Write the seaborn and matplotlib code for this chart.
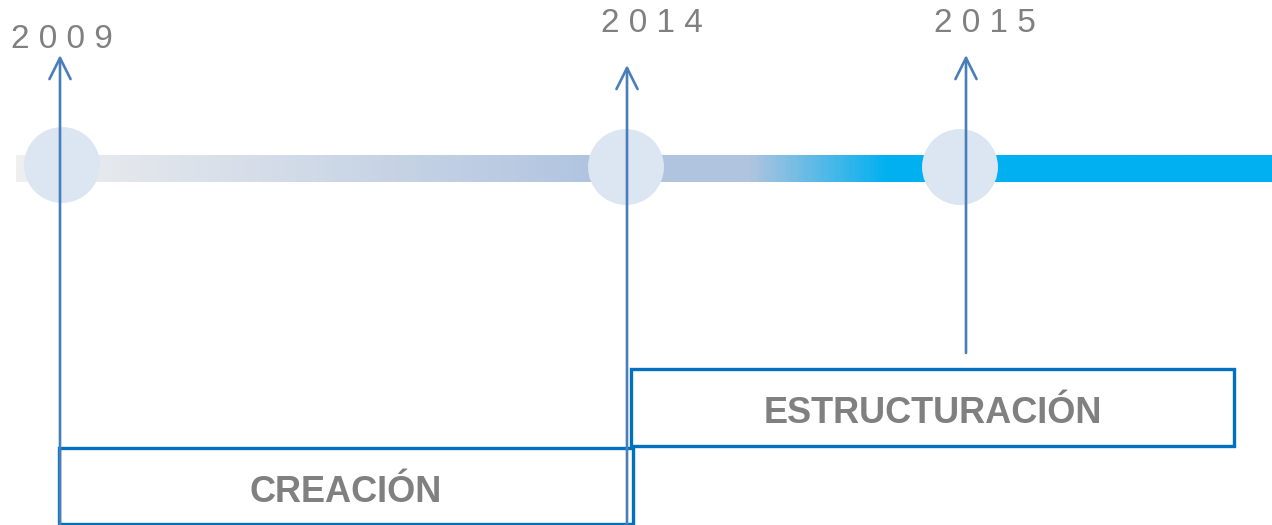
import numpy as np
import pandas as pd
import matplotlib.pyplot as plt
from matplotlib.colors import LinearSegmentedColormap
from matplotlib.patches import Rectangle
import seaborn as sns

# Timeline data
years = ['2009', '2014', '2015']
year_x = [62, 626, 960]          # circle centres along the bar
arrow_x = [60, 627, 966]
arrow_bottom = [525, 525, 353]
arrow_top = [55, 65, 55]
label_x = [62, 652, 985]
label_y = [39, 23, 23]
phases = ['CREACIÓN', 'ESTRUCTURACIÓN']
phase_boxes = [(59, 448, 574, 76), (631, 369, 603, 77)]  # x, y, w, h

sns.set_theme(style="white")
plt.rcParams['font.family'] = ['Liberation Sans', 'DejaVu Sans']

fig = plt.figure(figsize=(12.72, 5.25), dpi=100)
ax = fig.add_axes([0, 0, 1, 1])

# Gradient bar
cmap = LinearSegmentedColormap.from_list('bar', [
    (0.0, '#efefef'), (0.45, '#b2c5e0'), (0.585, '#b0c4df'),
    (0.695, '#00b0f0'), (1.0, '#00b0f0')])
grad = np.linspace(0, 1, 600).reshape(1, -1)
ax.imshow(grad, cmap=cmap, aspect='auto', extent=(16, 1272, 182, 155), zorder=1)

# Circles
circles = pd.DataFrame({'x': year_x, 'y': [165, 167, 167], 'year': years})
sns.scatterplot(data=circles, x='x', y='y', s=2990, color='#dce6f2',
                edgecolor='none', ax=ax, zorder=2, legend=False)
ax.set_xlim(0, 1272)
ax.set_ylim(525, 0)
ax.axis('off')

# Arrows and year labels
for yr, x, yb, yt, lx, ly in zip(years, arrow_x, arrow_bottom, arrow_top, label_x, label_y):
    ax.annotate('', xy=(x, yt), xytext=(x, yb),
                arrowprops=dict(arrowstyle='->', color='#4a7ebb', lw=1.9,
                                mutation_scale=38, shrinkA=0, shrinkB=0),
                zorder=4)
    ax.text(lx, ly, ' '.join(yr), ha='center', va='center', fontsize=24,
            color='#808080', zorder=5)

# Phase boxes
for name, (bx, by, bw, bh) in zip(phases, phase_boxes):
    ax.add_patch(Rectangle((bx, by), bw, bh, fill=False, edgecolor='#0070c0',
                           lw=2.4, zorder=3))
    ax.text(bx + bw / 2, by + bh / 2 + 6, name, ha='center', va='center',
            fontsize=26, fontweight='bold', color='#808080',
            family=['Liberation Sans Narrow', 'Liberation Sans', 'DejaVu Sans'],
            zorder=5)

fig.savefig('out.png', dpi=100)
